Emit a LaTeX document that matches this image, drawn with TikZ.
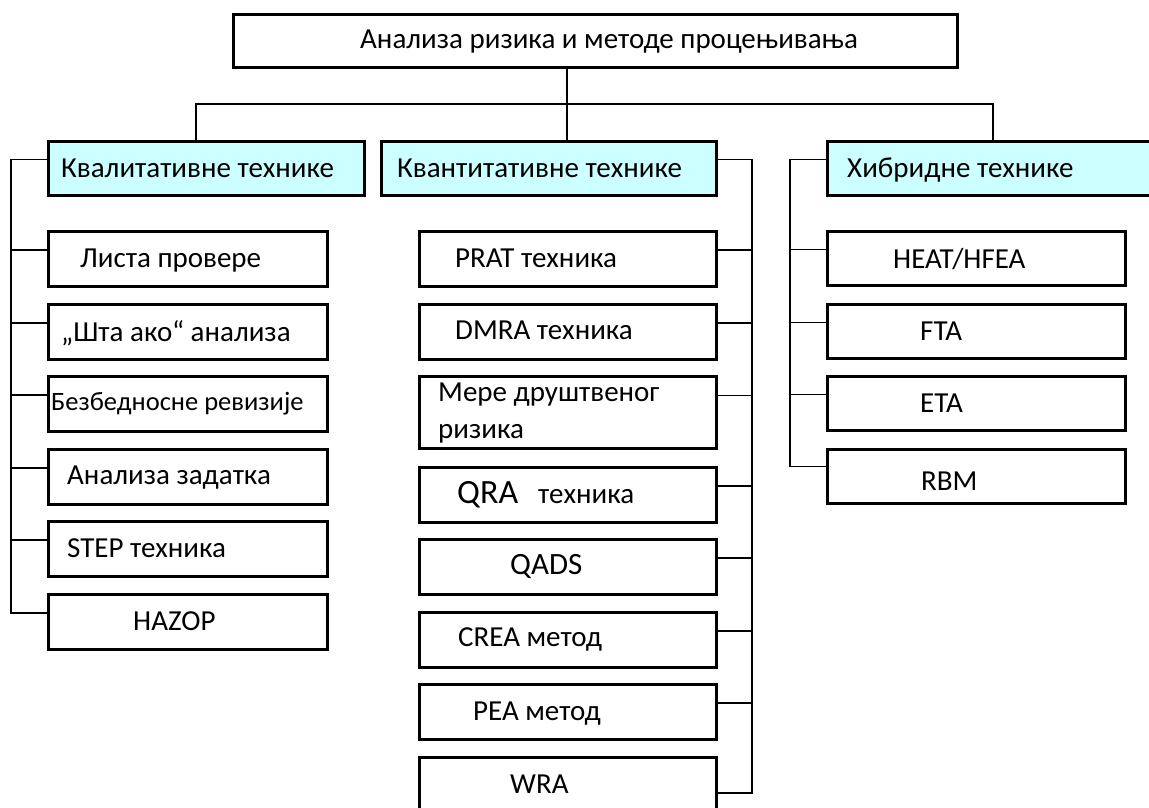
\documentclass[tikz,border=0pt]{standalone}
\usepackage{fontspec}
\setmainfont{Carlito}
\definecolor{hdrfill}{HTML}{CCFFFF}
\begin{document}
\begin{tikzpicture}[x=1pt,y=-1pt,
  cell/.style={draw, line width=2.6pt, fill=white, inner sep=0pt, anchor=north west},
  headcell/.style={cell, fill=hdrfill},
  lbl/.style={anchor=base west, inner sep=0pt, font=\fontsize{29}{34}\selectfont},
  wire/.style={line width=1.4pt}]
\useasboundingbox (0,0) rectangle (1149,808);

% root and the three groups
\node[cell, minimum width=724pt, minimum height=53pt] (root) at (232,13) {};
\node[headcell, minimum width=316pt, minimum height=54pt] (qual) at (47,140) {};
\node[headcell, minimum width=335pt, minimum height=54pt] (quant) at (380,140) {};
\node[headcell, minimum width=330pt, minimum height=54pt] (hyb) at (826,140) {};

% qualitative techniques
\foreach \n/\y in {q1/230,q2/303,q3/375,q4/448,q5/520,q6/593}
  \node[cell, minimum width=279pt, minimum height=55pt] (\n) at (47,\y) {};
% quantitative techniques
\foreach \n/\y in {m1/230,m2/303,m4/466,m5/538,m6/611,m7/683,m8/756}
  \node[cell, minimum width=297pt, minimum height=55pt] (\n) at (418,\y) {};
\node[cell, minimum width=297pt, minimum height=72pt] (m3) at (418,375) {};
% hybrid techniques
\foreach \n/\y in {h1/230,h2/303,h3/375,h4/448}
  \node[cell, minimum width=298pt, minimum height=54pt] (\n) at (826,\y) {};

% labels
\node[lbl] (rootT) at (360,49) {Анализа ризика и методе процењивања};
\node[lbl] (qualT) at (61,177) {Квалитативне технике};
\node[lbl] (quantT) at (397,177) {Квантитативне технике};
\node[lbl] (hybT) at (847,177) {Хибридне технике};

\node[lbl] (q1T) at (80,267) {Листа провере};
\node[lbl] (q2T) at (61,341) {„Шта ако“ анализа};
\node[lbl, font=\fontsize{26.5}{31}\selectfont] (q3T) at (51,410) {Безбедносне ревизије};
\node[lbl] (q4T) at (67,484) {Анализа задатка};
\node[lbl] (q5T) at (67,557) {STEP техника};
\node[lbl] (q6T) at (133,630) {HAZOP};

\node[lbl] (m1T) at (455,267) {PRAT техника};
\node[lbl] (m2T) at (455,339) {DMRA техника};
\node[lbl] (m3T) at (438,401) {Мере друштвеног};
\node[lbl] (m3U) at (438,438) {ризика};
\node[lbl] (m4T) at (457,503) {{\fontsize{34}{40}\selectfont QRA}\hspace{20pt}техника};
\node[lbl, font=\fontsize{31}{36}\selectfont] (m5T) at (510,574) {QADS};
\node[lbl] (m6T) at (458,646) {CREA метод};
\node[lbl] (m7T) at (473,720) {PEA метод};
\node[lbl] (m8T) at (510,793) {WRA};

\node[lbl] (h1T) at (893,268) {HEAT/HFEA};
\node[lbl] (h2T) at (920,340) {FTA};
\node[lbl] (h3T) at (920,412) {ETA};
\node[lbl] (h4T) at (921,490) {RBM};

% root to groups
\coordinate (trunk) at (567,104);
\coordinate (jl) at (196,104);
\coordinate (jr) at (993,104);
\draw[wire] (root.south -| trunk) -- (quant.north -| trunk);
\draw[wire] (qual.north -| jl) -- (jl) -- (jr) -- (hyb.north -| jr);

% qualitative spine (left side)
\coordinate (qs) at (11,0);
\draw[wire] ([yshift=9pt]qual.west) -| ([yshift=9pt]q6.west -| qs) -- ([yshift=9pt]q6.west);
\foreach \n in {q1,q2,q3,q4,q5}
  \draw[wire] ([yshift=9pt]\n.west) -- ([yshift=9pt]\n.west -| qs);

% quantitative spine (right side)
\coordinate (ms) at (752,0);
\draw[wire] ([yshift=9pt]quant.east) -| ([yshift=-8pt]m8.east -| ms) -- ([yshift=-8pt]m8.east);
\foreach \n in {m1,m2,m4,m5,m6,m7}
  \draw[wire] ([yshift=9pt]\n.east) -- ([yshift=9pt]\n.east -| ms);
\draw[wire] ([yshift=17pt]m3.east) -- ([yshift=17pt]m3.east -| ms);

% hybrid spine (left side)
\coordinate (hs) at (790,0);
\draw[wire] ([yshift=9pt]hyb.west) -| ([yshift=10pt]h4.west -| hs) -- ([yshift=10pt]h4.west);
\foreach \n in {h1,h2,h3}
  \draw[wire] ([yshift=9pt]\n.west) -- ([yshift=9pt]\n.west -| hs);
\end{tikzpicture}
\end{document}
